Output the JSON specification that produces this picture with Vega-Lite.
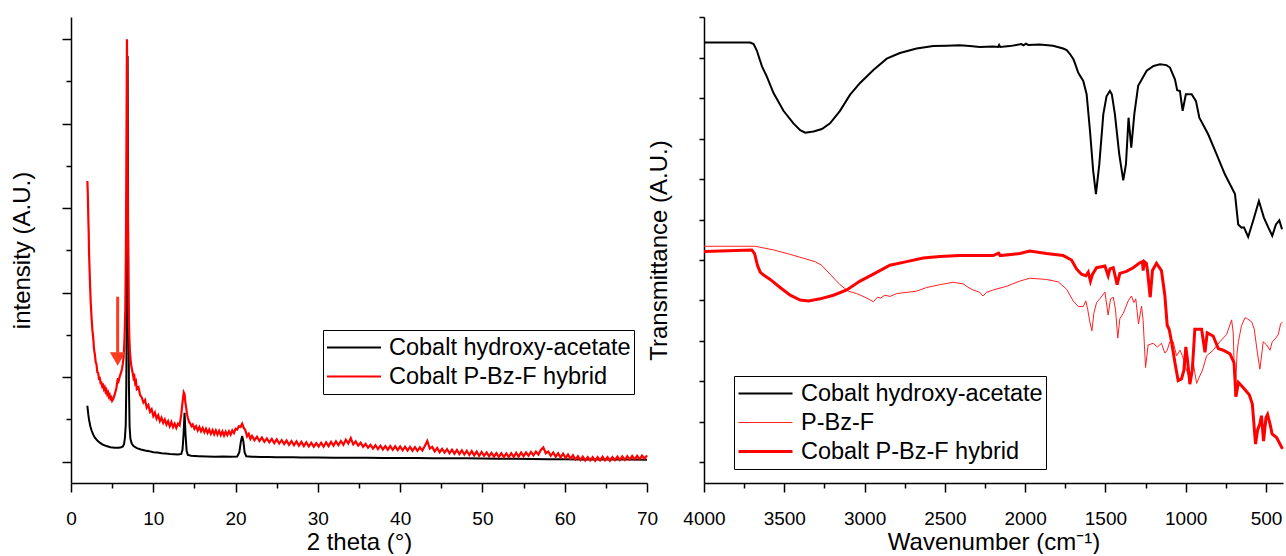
{
  "$schema": "https://vega.github.io/schema/vega-lite/v6.json",
  "background": "white",
  "padding": {"left": 10, "top": 16, "right": 0, "bottom": 0},
  "autosize": {"type": "pad"},
  "config": {
    "view": {"stroke": null},
    "axis": {"grid": false, "domainColor": "black", "tickColor": "black", "labelColor": "black", "titleColor": "black", "labelFont": "Liberation Sans", "titleFont": "Liberation Sans", "labelFontSize": 19, "titleFontSize": 24, "titleFontWeight": "normal", "domainWidth": 1.5, "tickWidth": 1.5, "labelFlush": false},
    "legend": {"labelFont": "Liberation Sans", "labelFontSize": 23.5, "labelColor": "black", "labelLimit": 500, "strokeColor": "black", "strokeWidth": 1, "fillColor": "white", "padding": 3, "symbolType": "stroke", "symbolSize": 2916, "symbolStrokeWidth": 2, "labelOffset": 7, "rowPadding": 0, "clipHeight": 29, "orient": "none"}
  },
  "resolve": {"scale": {"color": "independent", "strokeWidth": "independent", "x": "independent", "y": "independent"}, "legend": {"color": "independent", "strokeWidth": "independent"}},
  "bounds": "flush",
  "spacing": 57,
  "datasets": {
    "xrd": [
      {"s":"Cobalt hydroxy-acetate","x":1.99,"y":662},{"s":"Cobalt hydroxy-acetate","x":2.1,"y":560},{"s":"Cobalt hydroxy-acetate","x":2.2,"y":494},{"s":"Cobalt hydroxy-acetate","x":2.35,"y":420},{"s":"Cobalt hydroxy-acetate","x":2.5,"y":369},{"s":"Cobalt hydroxy-acetate","x":2.7,"y":320},{"s":"Cobalt hydroxy-acetate","x":2.9,"y":285},{"s":"Cobalt hydroxy-acetate","x":3.2,"y":250},{"s":"Cobalt hydroxy-acetate","x":3.5,"y":225},{"s":"Cobalt hydroxy-acetate","x":3.9,"y":200},{"s":"Cobalt hydroxy-acetate","x":4.3,"y":185},{"s":"Cobalt hydroxy-acetate","x":4.8,"y":172},{"s":"Cobalt hydroxy-acetate","x":5.3,"y":165},{"s":"Cobalt hydroxy-acetate","x":5.8,"y":165},{"s":"Cobalt hydroxy-acetate","x":6.1,"y":170},{"s":"Cobalt hydroxy-acetate","x":6.3,"y":180},{"s":"Cobalt hydroxy-acetate","x":6.45,"y":210},{"s":"Cobalt hydroxy-acetate","x":6.55,"y":280},{"s":"Cobalt hydroxy-acetate","x":6.65,"y":430},{"s":"Cobalt hydroxy-acetate","x":6.72,"y":900},{"s":"Cobalt hydroxy-acetate","x":6.8,"y":2200},{"s":"Cobalt hydroxy-acetate","x":6.88,"y":4800},{"s":"Cobalt hydroxy-acetate","x":6.96,"y":2200},{"s":"Cobalt hydroxy-acetate","x":7.04,"y":900},{"s":"Cobalt hydroxy-acetate","x":7.12,"y":420},{"s":"Cobalt hydroxy-acetate","x":7.22,"y":270},{"s":"Cobalt hydroxy-acetate","x":7.38,"y":215},{"s":"Cobalt hydroxy-acetate","x":7.6,"y":185},{"s":"Cobalt hydroxy-acetate","x":8.0,"y":160},{"s":"Cobalt hydroxy-acetate","x":8.5,"y":145},{"s":"Cobalt hydroxy-acetate","x":9.0,"y":132},{"s":"Cobalt hydroxy-acetate","x":9.5,"y":125},{"s":"Cobalt hydroxy-acetate","x":10.0,"y":112},{"s":"Cobalt hydroxy-acetate","x":10.5,"y":108},{"s":"Cobalt hydroxy-acetate","x":11.0,"y":100},{"s":"Cobalt hydroxy-acetate","x":11.5,"y":96},{"s":"Cobalt hydroxy-acetate","x":12.0,"y":90},{"s":"Cobalt hydroxy-acetate","x":12.5,"y":88},{"s":"Cobalt hydroxy-acetate","x":13.0,"y":85},{"s":"Cobalt hydroxy-acetate","x":13.4,"y":92},{"s":"Cobalt hydroxy-acetate","x":13.55,"y":140},{"s":"Cobalt hydroxy-acetate","x":13.68,"y":320},{"s":"Cobalt hydroxy-acetate","x":13.8,"y":578},{"s":"Cobalt hydroxy-acetate","x":13.92,"y":320},{"s":"Cobalt hydroxy-acetate","x":14.05,"y":130},{"s":"Cobalt hydroxy-acetate","x":14.2,"y":80},{"s":"Cobalt hydroxy-acetate","x":14.6,"y":70},{"s":"Cobalt hydroxy-acetate","x":15.5,"y":66},{"s":"Cobalt hydroxy-acetate","x":16.5,"y":63},{"s":"Cobalt hydroxy-acetate","x":17.5,"y":60},{"s":"Cobalt hydroxy-acetate","x":18.5,"y":61},{"s":"Cobalt hydroxy-acetate","x":19.5,"y":59},{"s":"Cobalt hydroxy-acetate","x":20.2,"y":62},{"s":"Cobalt hydroxy-acetate","x":20.45,"y":110},{"s":"Cobalt hydroxy-acetate","x":20.65,"y":240},{"s":"Cobalt hydroxy-acetate","x":20.8,"y":306},{"s":"Cobalt hydroxy-acetate","x":20.95,"y":240},{"s":"Cobalt hydroxy-acetate","x":21.1,"y":110},{"s":"Cobalt hydroxy-acetate","x":21.3,"y":65},{"s":"Cobalt hydroxy-acetate","x":22,"y":58},{"s":"Cobalt hydroxy-acetate","x":23,"y":57},{"s":"Cobalt hydroxy-acetate","x":24,"y":55},{"s":"Cobalt hydroxy-acetate","x":25,"y":54},{"s":"Cobalt hydroxy-acetate","x":26,"y":53},{"s":"Cobalt hydroxy-acetate","x":27,"y":52},{"s":"Cobalt hydroxy-acetate","x":28,"y":51},{"s":"Cobalt hydroxy-acetate","x":29,"y":50},{"s":"Cobalt hydroxy-acetate","x":30,"y":50},{"s":"Cobalt hydroxy-acetate","x":32,"y":48},{"s":"Cobalt hydroxy-acetate","x":34,"y":47},{"s":"Cobalt hydroxy-acetate","x":36,"y":46},{"s":"Cobalt hydroxy-acetate","x":38,"y":45},{"s":"Cobalt hydroxy-acetate","x":40,"y":44},{"s":"Cobalt hydroxy-acetate","x":42,"y":43},{"s":"Cobalt hydroxy-acetate","x":44,"y":42},{"s":"Cobalt hydroxy-acetate","x":46,"y":41},{"s":"Cobalt hydroxy-acetate","x":48,"y":40},{"s":"Cobalt hydroxy-acetate","x":50,"y":38},{"s":"Cobalt hydroxy-acetate","x":52,"y":36},{"s":"Cobalt hydroxy-acetate","x":54,"y":34},{"s":"Cobalt hydroxy-acetate","x":56,"y":32},{"s":"Cobalt hydroxy-acetate","x":58,"y":30},{"s":"Cobalt hydroxy-acetate","x":60,"y":28},{"s":"Cobalt hydroxy-acetate","x":62,"y":27},{"s":"Cobalt hydroxy-acetate","x":64,"y":26},{"s":"Cobalt hydroxy-acetate","x":66,"y":25},{"s":"Cobalt hydroxy-acetate","x":68,"y":25},{"s":"Cobalt hydroxy-acetate","x":70,"y":24},
      {"s":"Cobalt P-Bz-F hybrid","x":1.99,"y":3323},{"s":"Cobalt P-Bz-F hybrid","x":2.05,"y":3150},{"s":"Cobalt P-Bz-F hybrid","x":2.1,"y":2900},{"s":"Cobalt P-Bz-F hybrid","x":2.15,"y":2715},{"s":"Cobalt P-Bz-F hybrid","x":2.2,"y":2450},{"s":"Cobalt P-Bz-F hybrid","x":2.25,"y":2300},{"s":"Cobalt P-Bz-F hybrid","x":2.32,"y":2080},{"s":"Cobalt P-Bz-F hybrid","x":2.4,"y":1880},{"s":"Cobalt P-Bz-F hybrid","x":2.5,"y":1700},{"s":"Cobalt P-Bz-F hybrid","x":2.6,"y":1560},{"s":"Cobalt P-Bz-F hybrid","x":2.7,"y":1470},{"s":"Cobalt P-Bz-F hybrid","x":2.8,"y":1330},{"s":"Cobalt P-Bz-F hybrid","x":2.9,"y":1270},{"s":"Cobalt P-Bz-F hybrid","x":3.0,"y":1180},{"s":"Cobalt P-Bz-F hybrid","x":3.1,"y":1150},{"s":"Cobalt P-Bz-F hybrid","x":3.2,"y":1060},{"s":"Cobalt P-Bz-F hybrid","x":3.3,"y":1050},{"s":"Cobalt P-Bz-F hybrid","x":3.4,"y":985},{"s":"Cobalt P-Bz-F hybrid","x":3.5,"y":990},{"s":"Cobalt P-Bz-F hybrid","x":3.6,"y":930},{"s":"Cobalt P-Bz-F hybrid","x":3.7,"y":935},{"s":"Cobalt P-Bz-F hybrid","x":3.8,"y":890},{"s":"Cobalt P-Bz-F hybrid","x":3.9,"y":905},{"s":"Cobalt P-Bz-F hybrid","x":4.0,"y":860},{"s":"Cobalt P-Bz-F hybrid","x":4.1,"y":880},{"s":"Cobalt P-Bz-F hybrid","x":4.2,"y":830},{"s":"Cobalt P-Bz-F hybrid","x":4.3,"y":850},{"s":"Cobalt P-Bz-F hybrid","x":4.4,"y":800},{"s":"Cobalt P-Bz-F hybrid","x":4.5,"y":820},{"s":"Cobalt P-Bz-F hybrid","x":4.6,"y":770},{"s":"Cobalt P-Bz-F hybrid","x":4.7,"y":790},{"s":"Cobalt P-Bz-F hybrid","x":4.8,"y":745},{"s":"Cobalt P-Bz-F hybrid","x":4.9,"y":760},{"s":"Cobalt P-Bz-F hybrid","x":5.0,"y":720},{"s":"Cobalt P-Bz-F hybrid","x":5.1,"y":735},{"s":"Cobalt P-Bz-F hybrid","x":5.2,"y":760},{"s":"Cobalt P-Bz-F hybrid","x":5.3,"y":790},{"s":"Cobalt P-Bz-F hybrid","x":5.4,"y":830},{"s":"Cobalt P-Bz-F hybrid","x":5.5,"y":860},{"s":"Cobalt P-Bz-F hybrid","x":5.6,"y":930},{"s":"Cobalt P-Bz-F hybrid","x":5.7,"y":990},{"s":"Cobalt P-Bz-F hybrid","x":5.8,"y":960},{"s":"Cobalt P-Bz-F hybrid","x":5.9,"y":1000},{"s":"Cobalt P-Bz-F hybrid","x":6.0,"y":1030},{"s":"Cobalt P-Bz-F hybrid","x":6.1,"y":1060},{"s":"Cobalt P-Bz-F hybrid","x":6.2,"y":1100},{"s":"Cobalt P-Bz-F hybrid","x":6.3,"y":1160},{"s":"Cobalt P-Bz-F hybrid","x":6.4,"y":1250},{"s":"Cobalt P-Bz-F hybrid","x":6.5,"y":1450},{"s":"Cobalt P-Bz-F hybrid","x":6.6,"y":1800},{"s":"Cobalt P-Bz-F hybrid","x":6.68,"y":2600},{"s":"Cobalt P-Bz-F hybrid","x":6.74,"y":3800},{"s":"Cobalt P-Bz-F hybrid","x":6.8,"y":5000},{"s":"Cobalt P-Bz-F hybrid","x":6.86,"y":4000},{"s":"Cobalt P-Bz-F hybrid","x":6.92,"y":2800},{"s":"Cobalt P-Bz-F hybrid","x":7.0,"y":1900},{"s":"Cobalt P-Bz-F hybrid","x":7.08,"y":1500},{"s":"Cobalt P-Bz-F hybrid","x":7.15,"y":1320},{"s":"Cobalt P-Bz-F hybrid","x":7.25,"y":1200},{"s":"Cobalt P-Bz-F hybrid","x":7.35,"y":1120},{"s":"Cobalt P-Bz-F hybrid","x":7.5,"y":1050},{"s":"Cobalt P-Bz-F hybrid","x":7.6,"y":990},{"s":"Cobalt P-Bz-F hybrid","x":7.7,"y":1010},{"s":"Cobalt P-Bz-F hybrid","x":7.8,"y":930},{"s":"Cobalt P-Bz-F hybrid","x":7.9,"y":950},{"s":"Cobalt P-Bz-F hybrid","x":8.0,"y":860},{"s":"Cobalt P-Bz-F hybrid","x":8.2,"y":880},{"s":"Cobalt P-Bz-F hybrid","x":8.4,"y":790},{"s":"Cobalt P-Bz-F hybrid","x":8.6,"y":760},{"s":"Cobalt P-Bz-F hybrid","x":8.8,"y":700},{"s":"Cobalt P-Bz-F hybrid","x":9.0,"y":730},{"s":"Cobalt P-Bz-F hybrid","x":9.2,"y":640},{"s":"Cobalt P-Bz-F hybrid","x":9.4,"y":670},{"s":"Cobalt P-Bz-F hybrid","x":9.6,"y":590},{"s":"Cobalt P-Bz-F hybrid","x":9.8,"y":620},{"s":"Cobalt P-Bz-F hybrid","x":10.0,"y":540},{"s":"Cobalt P-Bz-F hybrid","x":10.2,"y":580},{"s":"Cobalt P-Bz-F hybrid","x":10.4,"y":510},{"s":"Cobalt P-Bz-F hybrid","x":10.6,"y":550},{"s":"Cobalt P-Bz-F hybrid","x":10.8,"y":480},{"s":"Cobalt P-Bz-F hybrid","x":11.0,"y":520},{"s":"Cobalt P-Bz-F hybrid","x":11.2,"y":460},{"s":"Cobalt P-Bz-F hybrid","x":11.4,"y":500},{"s":"Cobalt P-Bz-F hybrid","x":11.6,"y":440},{"s":"Cobalt P-Bz-F hybrid","x":11.8,"y":480},{"s":"Cobalt P-Bz-F hybrid","x":12.0,"y":420},{"s":"Cobalt P-Bz-F hybrid","x":12.2,"y":470},{"s":"Cobalt P-Bz-F hybrid","x":12.4,"y":410},{"s":"Cobalt P-Bz-F hybrid","x":12.6,"y":450},{"s":"Cobalt P-Bz-F hybrid","x":12.8,"y":400},{"s":"Cobalt P-Bz-F hybrid","x":13.0,"y":450},{"s":"Cobalt P-Bz-F hybrid","x":13.2,"y":430},{"s":"Cobalt P-Bz-F hybrid","x":13.4,"y":560},{"s":"Cobalt P-Bz-F hybrid","x":13.55,"y":700},{"s":"Cobalt P-Bz-F hybrid","x":13.7,"y":820},{"s":"Cobalt P-Bz-F hybrid","x":13.8,"y":800},{"s":"Cobalt P-Bz-F hybrid","x":13.9,"y":700},{"s":"Cobalt P-Bz-F hybrid","x":14.0,"y":640},{"s":"Cobalt P-Bz-F hybrid","x":14.1,"y":560},{"s":"Cobalt P-Bz-F hybrid","x":14.2,"y":520},{"s":"Cobalt P-Bz-F hybrid","x":14.35,"y":470},{"s":"Cobalt P-Bz-F hybrid","x":14.5,"y":450},{"s":"Cobalt P-Bz-F hybrid","x":14.65,"y":420},{"s":"Cobalt P-Bz-F hybrid","x":14.8,"y":440},{"s":"Cobalt P-Bz-F hybrid","x":15.0,"y":390},{"s":"Cobalt P-Bz-F hybrid","x":15.2,"y":420},{"s":"Cobalt P-Bz-F hybrid","x":15.4,"y":370},{"s":"Cobalt P-Bz-F hybrid","x":15.6,"y":410},{"s":"Cobalt P-Bz-F hybrid","x":15.8,"y":360},{"s":"Cobalt P-Bz-F hybrid","x":16.0,"y":400},{"s":"Cobalt P-Bz-F hybrid","x":16.2,"y":350},{"s":"Cobalt P-Bz-F hybrid","x":16.4,"y":390},{"s":"Cobalt P-Bz-F hybrid","x":16.6,"y":340},{"s":"Cobalt P-Bz-F hybrid","x":16.8,"y":380},{"s":"Cobalt P-Bz-F hybrid","x":17.0,"y":330},{"s":"Cobalt P-Bz-F hybrid","x":17.2,"y":375},{"s":"Cobalt P-Bz-F hybrid","x":17.4,"y":325},{"s":"Cobalt P-Bz-F hybrid","x":17.6,"y":370},{"s":"Cobalt P-Bz-F hybrid","x":17.8,"y":320},{"s":"Cobalt P-Bz-F hybrid","x":18.0,"y":365},{"s":"Cobalt P-Bz-F hybrid","x":18.2,"y":315},{"s":"Cobalt P-Bz-F hybrid","x":18.4,"y":360},{"s":"Cobalt P-Bz-F hybrid","x":18.6,"y":310},{"s":"Cobalt P-Bz-F hybrid","x":18.8,"y":355},{"s":"Cobalt P-Bz-F hybrid","x":19.0,"y":315},{"s":"Cobalt P-Bz-F hybrid","x":19.2,"y":360},{"s":"Cobalt P-Bz-F hybrid","x":19.4,"y":320},{"s":"Cobalt P-Bz-F hybrid","x":19.6,"y":370},{"s":"Cobalt P-Bz-F hybrid","x":19.8,"y":340},{"s":"Cobalt P-Bz-F hybrid","x":20.0,"y":390},{"s":"Cobalt P-Bz-F hybrid","x":20.2,"y":380},{"s":"Cobalt P-Bz-F hybrid","x":20.4,"y":420},{"s":"Cobalt P-Bz-F hybrid","x":20.6,"y":410},{"s":"Cobalt P-Bz-F hybrid","x":20.8,"y":450},{"s":"Cobalt P-Bz-F hybrid","x":21.0,"y":400},{"s":"Cobalt P-Bz-F hybrid","x":21.2,"y":370},{"s":"Cobalt P-Bz-F hybrid","x":21.4,"y":300},{"s":"Cobalt P-Bz-F hybrid","x":21.6,"y":330},{"s":"Cobalt P-Bz-F hybrid","x":21.8,"y":270},{"s":"Cobalt P-Bz-F hybrid","x":22.0,"y":305},{"s":"Cobalt P-Bz-F hybrid","x":22.3,"y":255},{"s":"Cobalt P-Bz-F hybrid","x":22.6,"y":295},{"s":"Cobalt P-Bz-F hybrid","x":22.9,"y":245},{"s":"Cobalt P-Bz-F hybrid","x":23.2,"y":285},{"s":"Cobalt P-Bz-F hybrid","x":23.5,"y":235},{"s":"Cobalt P-Bz-F hybrid","x":23.8,"y":275},{"s":"Cobalt P-Bz-F hybrid","x":24.1,"y":230},{"s":"Cobalt P-Bz-F hybrid","x":24.4,"y":270},{"s":"Cobalt P-Bz-F hybrid","x":24.7,"y":220},{"s":"Cobalt P-Bz-F hybrid","x":25.0,"y":265},{"s":"Cobalt P-Bz-F hybrid","x":25.3,"y":215},{"s":"Cobalt P-Bz-F hybrid","x":25.6,"y":255},{"s":"Cobalt P-Bz-F hybrid","x":25.9,"y":210},{"s":"Cobalt P-Bz-F hybrid","x":26.2,"y":250},{"s":"Cobalt P-Bz-F hybrid","x":26.5,"y":200},{"s":"Cobalt P-Bz-F hybrid","x":26.8,"y":245},{"s":"Cobalt P-Bz-F hybrid","x":27.1,"y":195},{"s":"Cobalt P-Bz-F hybrid","x":27.4,"y":240},{"s":"Cobalt P-Bz-F hybrid","x":27.7,"y":190},{"s":"Cobalt P-Bz-F hybrid","x":28.0,"y":235},{"s":"Cobalt P-Bz-F hybrid","x":28.3,"y":185},{"s":"Cobalt P-Bz-F hybrid","x":28.6,"y":230},{"s":"Cobalt P-Bz-F hybrid","x":28.9,"y":180},{"s":"Cobalt P-Bz-F hybrid","x":29.2,"y":225},{"s":"Cobalt P-Bz-F hybrid","x":29.5,"y":178},{"s":"Cobalt P-Bz-F hybrid","x":29.8,"y":220},{"s":"Cobalt P-Bz-F hybrid","x":30.1,"y":180},{"s":"Cobalt P-Bz-F hybrid","x":30.4,"y":225},{"s":"Cobalt P-Bz-F hybrid","x":30.7,"y":178},{"s":"Cobalt P-Bz-F hybrid","x":31.0,"y":230},{"s":"Cobalt P-Bz-F hybrid","x":31.3,"y":185},{"s":"Cobalt P-Bz-F hybrid","x":31.6,"y":235},{"s":"Cobalt P-Bz-F hybrid","x":31.9,"y":190},{"s":"Cobalt P-Bz-F hybrid","x":32.2,"y":240},{"s":"Cobalt P-Bz-F hybrid","x":32.5,"y":195},{"s":"Cobalt P-Bz-F hybrid","x":32.8,"y":245},{"s":"Cobalt P-Bz-F hybrid","x":33.1,"y":200},{"s":"Cobalt P-Bz-F hybrid","x":33.4,"y":260},{"s":"Cobalt P-Bz-F hybrid","x":33.7,"y":215},{"s":"Cobalt P-Bz-F hybrid","x":34.0,"y":280},{"s":"Cobalt P-Bz-F hybrid","x":34.3,"y":205},{"s":"Cobalt P-Bz-F hybrid","x":34.6,"y":240},{"s":"Cobalt P-Bz-F hybrid","x":34.9,"y":190},{"s":"Cobalt P-Bz-F hybrid","x":35.2,"y":225},{"s":"Cobalt P-Bz-F hybrid","x":35.5,"y":175},{"s":"Cobalt P-Bz-F hybrid","x":35.8,"y":210},{"s":"Cobalt P-Bz-F hybrid","x":36.1,"y":165},{"s":"Cobalt P-Bz-F hybrid","x":36.4,"y":200},{"s":"Cobalt P-Bz-F hybrid","x":36.7,"y":155},{"s":"Cobalt P-Bz-F hybrid","x":37.0,"y":195},{"s":"Cobalt P-Bz-F hybrid","x":37.3,"y":150},{"s":"Cobalt P-Bz-F hybrid","x":37.6,"y":190},{"s":"Cobalt P-Bz-F hybrid","x":37.9,"y":145},{"s":"Cobalt P-Bz-F hybrid","x":38.2,"y":185},{"s":"Cobalt P-Bz-F hybrid","x":38.5,"y":142},{"s":"Cobalt P-Bz-F hybrid","x":38.8,"y":185},{"s":"Cobalt P-Bz-F hybrid","x":39.1,"y":140},{"s":"Cobalt P-Bz-F hybrid","x":39.4,"y":182},{"s":"Cobalt P-Bz-F hybrid","x":39.7,"y":138},{"s":"Cobalt P-Bz-F hybrid","x":40.0,"y":180},{"s":"Cobalt P-Bz-F hybrid","x":40.3,"y":135},{"s":"Cobalt P-Bz-F hybrid","x":40.6,"y":178},{"s":"Cobalt P-Bz-F hybrid","x":40.9,"y":132},{"s":"Cobalt P-Bz-F hybrid","x":41.2,"y":175},{"s":"Cobalt P-Bz-F hybrid","x":41.5,"y":130},{"s":"Cobalt P-Bz-F hybrid","x":41.8,"y":172},{"s":"Cobalt P-Bz-F hybrid","x":42.1,"y":128},{"s":"Cobalt P-Bz-F hybrid","x":42.4,"y":170},{"s":"Cobalt P-Bz-F hybrid","x":42.7,"y":132},{"s":"Cobalt P-Bz-F hybrid","x":43.0,"y":185},{"s":"Cobalt P-Bz-F hybrid","x":43.3,"y":245},{"s":"Cobalt P-Bz-F hybrid","x":43.6,"y":155},{"s":"Cobalt P-Bz-F hybrid","x":43.9,"y":175},{"s":"Cobalt P-Bz-F hybrid","x":44.2,"y":122},{"s":"Cobalt P-Bz-F hybrid","x":44.5,"y":162},{"s":"Cobalt P-Bz-F hybrid","x":44.8,"y":112},{"s":"Cobalt P-Bz-F hybrid","x":45.1,"y":152},{"s":"Cobalt P-Bz-F hybrid","x":45.4,"y":108},{"s":"Cobalt P-Bz-F hybrid","x":45.7,"y":148},{"s":"Cobalt P-Bz-F hybrid","x":46.0,"y":100},{"s":"Cobalt P-Bz-F hybrid","x":46.3,"y":142},{"s":"Cobalt P-Bz-F hybrid","x":46.6,"y":95},{"s":"Cobalt P-Bz-F hybrid","x":46.9,"y":138},{"s":"Cobalt P-Bz-F hybrid","x":47.2,"y":90},{"s":"Cobalt P-Bz-F hybrid","x":47.5,"y":135},{"s":"Cobalt P-Bz-F hybrid","x":47.8,"y":85},{"s":"Cobalt P-Bz-F hybrid","x":48.1,"y":130},{"s":"Cobalt P-Bz-F hybrid","x":48.4,"y":80},{"s":"Cobalt P-Bz-F hybrid","x":48.7,"y":125},{"s":"Cobalt P-Bz-F hybrid","x":49.0,"y":75},{"s":"Cobalt P-Bz-F hybrid","x":49.3,"y":120},{"s":"Cobalt P-Bz-F hybrid","x":49.6,"y":70},{"s":"Cobalt P-Bz-F hybrid","x":49.9,"y":115},{"s":"Cobalt P-Bz-F hybrid","x":50.2,"y":70},{"s":"Cobalt P-Bz-F hybrid","x":50.5,"y":110},{"s":"Cobalt P-Bz-F hybrid","x":50.8,"y":65},{"s":"Cobalt P-Bz-F hybrid","x":51.1,"y":105},{"s":"Cobalt P-Bz-F hybrid","x":51.4,"y":60},{"s":"Cobalt P-Bz-F hybrid","x":51.7,"y":100},{"s":"Cobalt P-Bz-F hybrid","x":52.0,"y":58},{"s":"Cobalt P-Bz-F hybrid","x":52.3,"y":100},{"s":"Cobalt P-Bz-F hybrid","x":52.6,"y":55},{"s":"Cobalt P-Bz-F hybrid","x":52.9,"y":98},{"s":"Cobalt P-Bz-F hybrid","x":53.2,"y":55},{"s":"Cobalt P-Bz-F hybrid","x":53.5,"y":100},{"s":"Cobalt P-Bz-F hybrid","x":53.8,"y":58},{"s":"Cobalt P-Bz-F hybrid","x":54.1,"y":105},{"s":"Cobalt P-Bz-F hybrid","x":54.4,"y":60},{"s":"Cobalt P-Bz-F hybrid","x":54.7,"y":108},{"s":"Cobalt P-Bz-F hybrid","x":55.0,"y":65},{"s":"Cobalt P-Bz-F hybrid","x":55.3,"y":110},{"s":"Cobalt P-Bz-F hybrid","x":55.6,"y":70},{"s":"Cobalt P-Bz-F hybrid","x":55.9,"y":115},{"s":"Cobalt P-Bz-F hybrid","x":56.2,"y":75},{"s":"Cobalt P-Bz-F hybrid","x":56.5,"y":120},{"s":"Cobalt P-Bz-F hybrid","x":56.8,"y":85},{"s":"Cobalt P-Bz-F hybrid","x":57.1,"y":140},{"s":"Cobalt P-Bz-F hybrid","x":57.4,"y":170},{"s":"Cobalt P-Bz-F hybrid","x":57.7,"y":100},{"s":"Cobalt P-Bz-F hybrid","x":58.0,"y":120},{"s":"Cobalt P-Bz-F hybrid","x":58.3,"y":70},{"s":"Cobalt P-Bz-F hybrid","x":58.6,"y":110},{"s":"Cobalt P-Bz-F hybrid","x":58.9,"y":60},{"s":"Cobalt P-Bz-F hybrid","x":59.2,"y":100},{"s":"Cobalt P-Bz-F hybrid","x":59.5,"y":50},{"s":"Cobalt P-Bz-F hybrid","x":59.8,"y":95},{"s":"Cobalt P-Bz-F hybrid","x":60.1,"y":45},{"s":"Cobalt P-Bz-F hybrid","x":60.4,"y":85},{"s":"Cobalt P-Bz-F hybrid","x":60.7,"y":35},{"s":"Cobalt P-Bz-F hybrid","x":61.0,"y":75},{"s":"Cobalt P-Bz-F hybrid","x":61.3,"y":25},{"s":"Cobalt P-Bz-F hybrid","x":61.6,"y":65},{"s":"Cobalt P-Bz-F hybrid","x":61.9,"y":20},{"s":"Cobalt P-Bz-F hybrid","x":62.2,"y":60},{"s":"Cobalt P-Bz-F hybrid","x":62.5,"y":15},{"s":"Cobalt P-Bz-F hybrid","x":62.8,"y":55},{"s":"Cobalt P-Bz-F hybrid","x":63.1,"y":15},{"s":"Cobalt P-Bz-F hybrid","x":63.4,"y":55},{"s":"Cobalt P-Bz-F hybrid","x":63.7,"y":12},{"s":"Cobalt P-Bz-F hybrid","x":64.0,"y":55},{"s":"Cobalt P-Bz-F hybrid","x":64.3,"y":15},{"s":"Cobalt P-Bz-F hybrid","x":64.6,"y":58},{"s":"Cobalt P-Bz-F hybrid","x":64.9,"y":15},{"s":"Cobalt P-Bz-F hybrid","x":65.2,"y":55},{"s":"Cobalt P-Bz-F hybrid","x":65.5,"y":12},{"s":"Cobalt P-Bz-F hybrid","x":65.8,"y":55},{"s":"Cobalt P-Bz-F hybrid","x":66.1,"y":18},{"s":"Cobalt P-Bz-F hybrid","x":66.4,"y":60},{"s":"Cobalt P-Bz-F hybrid","x":66.7,"y":20},{"s":"Cobalt P-Bz-F hybrid","x":67.0,"y":62},{"s":"Cobalt P-Bz-F hybrid","x":67.3,"y":22},{"s":"Cobalt P-Bz-F hybrid","x":67.6,"y":65},{"s":"Cobalt P-Bz-F hybrid","x":67.9,"y":25},{"s":"Cobalt P-Bz-F hybrid","x":68.2,"y":68},{"s":"Cobalt P-Bz-F hybrid","x":68.5,"y":28},{"s":"Cobalt P-Bz-F hybrid","x":68.8,"y":70},{"s":"Cobalt P-Bz-F hybrid","x":69.1,"y":30},{"s":"Cobalt P-Bz-F hybrid","x":69.4,"y":72},{"s":"Cobalt P-Bz-F hybrid","x":69.7,"y":35},{"s":"Cobalt P-Bz-F hybrid","x":70.0,"y":75}
    ],
    "ir": [
      {"s":"Cobalt hydroxy-acetate","w":4000,"t":9.88},{"s":"Cobalt hydroxy-acetate","w":3850,"t":9.88},{"s":"Cobalt hydroxy-acetate","w":3712,"t":9.88},{"s":"Cobalt hydroxy-acetate","w":3691,"t":9.84},{"s":"Cobalt hydroxy-acetate","w":3671,"t":9.68},{"s":"Cobalt hydroxy-acetate","w":3639,"t":9.29},{"s":"Cobalt hydroxy-acetate","w":3608,"t":9.03},{"s":"Cobalt hydroxy-acetate","w":3567,"t":8.63},{"s":"Cobalt hydroxy-acetate","w":3505,"t":8.19},{"s":"Cobalt hydroxy-acetate","w":3443,"t":7.88},{"s":"Cobalt hydroxy-acetate","w":3401,"t":7.71},{"s":"Cobalt hydroxy-acetate","w":3370,"t":7.65},{"s":"Cobalt hydroxy-acetate","w":3318,"t":7.68},{"s":"Cobalt hydroxy-acetate","w":3266,"t":7.74},{"s":"Cobalt hydroxy-acetate","w":3215,"t":7.88},{"s":"Cobalt hydroxy-acetate","w":3153,"t":8.19},{"s":"Cobalt hydroxy-acetate","w":3090,"t":8.59},{"s":"Cobalt hydroxy-acetate","w":3028,"t":8.88},{"s":"Cobalt hydroxy-acetate","w":2945,"t":9.2},{"s":"Cobalt hydroxy-acetate","w":2862,"t":9.48},{"s":"Cobalt hydroxy-acetate","w":2780,"t":9.62},{"s":"Cobalt hydroxy-acetate","w":2676,"t":9.73},{"s":"Cobalt hydroxy-acetate","w":2572,"t":9.79},{"s":"Cobalt hydroxy-acetate","w":2490,"t":9.8},{"s":"Cobalt hydroxy-acetate","w":2407,"t":9.81},{"s":"Cobalt hydroxy-acetate","w":2344,"t":9.79},{"s":"Cobalt hydroxy-acetate","w":2282,"t":9.77},{"s":"Cobalt hydroxy-acetate","w":2200,"t":9.78},{"s":"Cobalt hydroxy-acetate","w":2168,"t":9.77},{"s":"Cobalt hydroxy-acetate","w":2162,"t":9.82},{"s":"Cobalt hydroxy-acetate","w":2155,"t":9.77},{"s":"Cobalt hydroxy-acetate","w":2096,"t":9.79},{"s":"Cobalt hydroxy-acetate","w":2023,"t":9.84},{"s":"Cobalt hydroxy-acetate","w":2010,"t":9.81},{"s":"Cobalt hydroxy-acetate","w":1995,"t":9.85},{"s":"Cobalt hydroxy-acetate","w":1981,"t":9.82},{"s":"Cobalt hydroxy-acetate","w":1909,"t":9.83},{"s":"Cobalt hydroxy-acetate","w":1826,"t":9.8},{"s":"Cobalt hydroxy-acetate","w":1763,"t":9.73},{"s":"Cobalt hydroxy-acetate","w":1741,"t":9.69},{"s":"Cobalt hydroxy-acetate","w":1722,"t":9.6},{"s":"Cobalt hydroxy-acetate","w":1700,"t":9.47},{"s":"Cobalt hydroxy-acetate","w":1691,"t":9.38},{"s":"Cobalt hydroxy-acetate","w":1669,"t":9.13},{"s":"Cobalt hydroxy-acetate","w":1638,"t":8.93},{"s":"Cobalt hydroxy-acetate","w":1617,"t":8.6},{"s":"Cobalt hydroxy-acetate","w":1596,"t":7.69},{"s":"Cobalt hydroxy-acetate","w":1576,"t":6.7},{"s":"Cobalt hydroxy-acetate","w":1559,"t":6.13},{"s":"Cobalt hydroxy-acetate","w":1538,"t":6.87},{"s":"Cobalt hydroxy-acetate","w":1513,"t":8.11},{"s":"Cobalt hydroxy-acetate","w":1493,"t":8.55},{"s":"Cobalt hydroxy-acetate","w":1472,"t":8.68},{"s":"Cobalt hydroxy-acetate","w":1460,"t":8.6},{"s":"Cobalt hydroxy-acetate","w":1441,"t":8.11},{"s":"Cobalt hydroxy-acetate","w":1414,"t":7.12},{"s":"Cobalt hydroxy-acetate","w":1389,"t":6.47},{"s":"Cobalt hydroxy-acetate","w":1372,"t":6.87},{"s":"Cobalt hydroxy-acetate","w":1356,"t":8.02},{"s":"Cobalt hydroxy-acetate","w":1339,"t":7.28},{"s":"Cobalt hydroxy-acetate","w":1320,"t":8.11},{"s":"Cobalt hydroxy-acetate","w":1296,"t":8.81},{"s":"Cobalt hydroxy-acetate","w":1243,"t":9.18},{"s":"Cobalt hydroxy-acetate","w":1200,"t":9.3},{"s":"Cobalt hydroxy-acetate","w":1160,"t":9.34},{"s":"Cobalt hydroxy-acetate","w":1120,"t":9.32},{"s":"Cobalt hydroxy-acetate","w":1098,"t":9.26},{"s":"Cobalt hydroxy-acetate","w":1067,"t":8.97},{"s":"Cobalt hydroxy-acetate","w":1053,"t":8.7},{"s":"Cobalt hydroxy-acetate","w":1036,"t":8.68},{"s":"Cobalt hydroxy-acetate","w":1019,"t":8.19},{"s":"Cobalt hydroxy-acetate","w":999,"t":8.6},{"s":"Cobalt hydroxy-acetate","w":963,"t":8.6},{"s":"Cobalt hydroxy-acetate","w":936,"t":8.43},{"s":"Cobalt hydroxy-acetate","w":915,"t":8.02},{"s":"Cobalt hydroxy-acetate","w":860,"t":7.61},{"s":"Cobalt hydroxy-acetate","w":808,"t":7.12},{"s":"Cobalt hydroxy-acetate","w":756,"t":6.62},{"s":"Cobalt hydroxy-acetate","w":693,"t":6.13},{"s":"Cobalt hydroxy-acetate","w":673,"t":5.38},{"s":"Cobalt hydroxy-acetate","w":652,"t":5.3},{"s":"Cobalt hydroxy-acetate","w":637,"t":5.31},{"s":"Cobalt hydroxy-acetate","w":611,"t":5.07},{"s":"Cobalt hydroxy-acetate","w":580,"t":5.47},{"s":"Cobalt hydroxy-acetate","w":544,"t":5.96},{"s":"Cobalt hydroxy-acetate","w":513,"t":5.55},{"s":"Cobalt hydroxy-acetate","w":485,"t":5.3},{"s":"Cobalt hydroxy-acetate","w":461,"t":5.1},{"s":"Cobalt hydroxy-acetate","w":438,"t":5.38},{"s":"Cobalt hydroxy-acetate","w":417,"t":5.48},{"s":"Cobalt hydroxy-acetate","w":400,"t":5.26},
      {"s":"P-Bz-F","w":4000,"t":4.84},{"s":"P-Bz-F","w":3681,"t":4.84},{"s":"P-Bz-F","w":3567,"t":4.75},{"s":"P-Bz-F","w":3463,"t":4.64},{"s":"P-Bz-F","w":3360,"t":4.52},{"s":"P-Bz-F","w":3308,"t":4.46},{"s":"P-Bz-F","w":3267,"t":4.37},{"s":"P-Bz-F","w":3215,"t":4.15},{"s":"P-Bz-F","w":3153,"t":3.89},{"s":"P-Bz-F","w":3101,"t":3.73},{"s":"P-Bz-F","w":3049,"t":3.67},{"s":"P-Bz-F","w":2997,"t":3.58},{"s":"P-Bz-F","w":2945,"t":3.47},{"s":"P-Bz-F","w":2920,"t":3.58},{"s":"P-Bz-F","w":2900,"t":3.56},{"s":"P-Bz-F","w":2873,"t":3.63},{"s":"P-Bz-F","w":2842,"t":3.6},{"s":"P-Bz-F","w":2800,"t":3.67},{"s":"P-Bz-F","w":2676,"t":3.73},{"s":"P-Bz-F","w":2614,"t":3.82},{"s":"P-Bz-F","w":2531,"t":3.89},{"s":"P-Bz-F","w":2448,"t":3.95},{"s":"P-Bz-F","w":2386,"t":3.91},{"s":"P-Bz-F","w":2344,"t":3.8},{"s":"P-Bz-F","w":2324,"t":3.76},{"s":"P-Bz-F","w":2282,"t":3.7},{"s":"P-Bz-F","w":2262,"t":3.61},{"s":"P-Bz-F","w":2241,"t":3.7},{"s":"P-Bz-F","w":2199,"t":3.76},{"s":"P-Bz-F","w":2116,"t":3.85},{"s":"P-Bz-F","w":2033,"t":3.98},{"s":"P-Bz-F","w":1971,"t":4.05},{"s":"P-Bz-F","w":1867,"t":4.02},{"s":"P-Bz-F","w":1794,"t":3.96},{"s":"P-Bz-F","w":1742,"t":3.78},{"s":"P-Bz-F","w":1701,"t":3.49},{"s":"P-Bz-F","w":1669,"t":3.35},{"s":"P-Bz-F","w":1638,"t":3.35},{"s":"P-Bz-F","w":1622,"t":3.49},{"s":"P-Bz-F","w":1610,"t":3.27},{"s":"P-Bz-F","w":1597,"t":2.97},{"s":"P-Bz-F","w":1584,"t":2.75},{"s":"P-Bz-F","w":1572,"t":3.18},{"s":"P-Bz-F","w":1555,"t":3.45},{"s":"P-Bz-F","w":1535,"t":3.54},{"s":"P-Bz-F","w":1503,"t":3.71},{"s":"P-Bz-F","w":1483,"t":3.14},{"s":"P-Bz-F","w":1468,"t":3.54},{"s":"P-Bz-F","w":1451,"t":3.58},{"s":"P-Bz-F","w":1437,"t":3.27},{"s":"P-Bz-F","w":1423,"t":2.57},{"s":"P-Bz-F","w":1410,"t":3.05},{"s":"P-Bz-F","w":1389,"t":3.18},{"s":"P-Bz-F","w":1358,"t":3.49},{"s":"P-Bz-F","w":1338,"t":3.61},{"s":"P-Bz-F","w":1323,"t":3.45},{"s":"P-Bz-F","w":1311,"t":3.54},{"s":"P-Bz-F","w":1294,"t":2.92},{"s":"P-Bz-F","w":1275,"t":3.36},{"s":"P-Bz-F","w":1265,"t":3.0},{"s":"P-Bz-F","w":1250,"t":1.84},{"s":"P-Bz-F","w":1234,"t":2.4},{"s":"P-Bz-F","w":1203,"t":2.44},{"s":"P-Bz-F","w":1176,"t":2.35},{"s":"P-Bz-F","w":1151,"t":2.44},{"s":"P-Bz-F","w":1130,"t":2.2},{"s":"P-Bz-F","w":1115,"t":2.27},{"s":"P-Bz-F","w":1099,"t":2.48},{"s":"P-Bz-F","w":1078,"t":2.48},{"s":"P-Bz-F","w":1057,"t":2.13},{"s":"P-Bz-F","w":1036,"t":2.27},{"s":"P-Bz-F","w":1020,"t":2.13},{"s":"P-Bz-F","w":995,"t":1.78},{"s":"P-Bz-F","w":974,"t":1.55},{"s":"P-Bz-F","w":953,"t":1.96},{"s":"P-Bz-F","w":932,"t":1.45},{"s":"P-Bz-F","w":916,"t":1.6},{"s":"P-Bz-F","w":895,"t":1.78},{"s":"P-Bz-F","w":870,"t":2.13},{"s":"P-Bz-F","w":829,"t":2.27},{"s":"P-Bz-F","w":787,"t":2.48},{"s":"P-Bz-F","w":745,"t":2.66},{"s":"P-Bz-F","w":714,"t":3.02},{"s":"P-Bz-F","w":704,"t":2.7},{"s":"P-Bz-F","w":692,"t":1.12},{"s":"P-Bz-F","w":680,"t":2.2},{"s":"P-Bz-F","w":672,"t":2.48},{"s":"P-Bz-F","w":652,"t":2.88},{"s":"P-Bz-F","w":631,"t":3.07},{"s":"P-Bz-F","w":620,"t":3.06},{"s":"P-Bz-F","w":589,"t":2.97},{"s":"P-Bz-F","w":573,"t":2.79},{"s":"P-Bz-F","w":554,"t":2.22},{"s":"P-Bz-F","w":538,"t":1.8},{"s":"P-Bz-F","w":517,"t":2.48},{"s":"P-Bz-F","w":496,"t":2.4},{"s":"P-Bz-F","w":475,"t":2.27},{"s":"P-Bz-F","w":461,"t":2.48},{"s":"P-Bz-F","w":438,"t":2.57},{"s":"P-Bz-F","w":423,"t":2.66},{"s":"P-Bz-F","w":409,"t":2.92},{"s":"P-Bz-F","w":397,"t":2.97},
      {"s":"Cobalt P-Bz-F hybrid","w":4000,"t":4.71},{"s":"Cobalt P-Bz-F hybrid","w":3702,"t":4.75},{"s":"Cobalt P-Bz-F hybrid","w":3685,"t":4.66},{"s":"Cobalt P-Bz-F hybrid","w":3667,"t":4.37},{"s":"Cobalt P-Bz-F hybrid","w":3650,"t":4.2},{"s":"Cobalt P-Bz-F hybrid","w":3633,"t":4.14},{"s":"Cobalt P-Bz-F hybrid","w":3588,"t":4.02},{"s":"Cobalt P-Bz-F hybrid","w":3526,"t":3.82},{"s":"Cobalt P-Bz-F hybrid","w":3463,"t":3.63},{"s":"Cobalt P-Bz-F hybrid","w":3401,"t":3.51},{"s":"Cobalt P-Bz-F hybrid","w":3349,"t":3.49},{"s":"Cobalt P-Bz-F hybrid","w":3277,"t":3.54},{"s":"Cobalt P-Bz-F hybrid","w":3194,"t":3.63},{"s":"Cobalt P-Bz-F hybrid","w":3111,"t":3.76},{"s":"Cobalt P-Bz-F hybrid","w":3028,"t":3.98},{"s":"Cobalt P-Bz-F hybrid","w":2945,"t":4.15},{"s":"Cobalt P-Bz-F hybrid","w":2842,"t":4.37},{"s":"Cobalt P-Bz-F hybrid","w":2738,"t":4.46},{"s":"Cobalt P-Bz-F hybrid","w":2635,"t":4.55},{"s":"Cobalt P-Bz-F hybrid","w":2531,"t":4.59},{"s":"Cobalt P-Bz-F hybrid","w":2407,"t":4.61},{"s":"Cobalt P-Bz-F hybrid","w":2199,"t":4.61},{"s":"Cobalt P-Bz-F hybrid","w":2165,"t":4.67},{"s":"Cobalt P-Bz-F hybrid","w":2155,"t":4.61},{"s":"Cobalt P-Bz-F hybrid","w":2033,"t":4.66},{"s":"Cobalt P-Bz-F hybrid","w":1971,"t":4.72},{"s":"Cobalt P-Bz-F hybrid","w":1867,"t":4.66},{"s":"Cobalt P-Bz-F hybrid","w":1763,"t":4.61},{"s":"Cobalt P-Bz-F hybrid","w":1711,"t":4.5},{"s":"Cobalt P-Bz-F hybrid","w":1680,"t":4.28},{"s":"Cobalt P-Bz-F hybrid","w":1649,"t":4.15},{"s":"Cobalt P-Bz-F hybrid","w":1622,"t":4.11},{"s":"Cobalt P-Bz-F hybrid","w":1607,"t":4.2},{"s":"Cobalt P-Bz-F hybrid","w":1593,"t":3.98},{"s":"Cobalt P-Bz-F hybrid","w":1580,"t":4.15},{"s":"Cobalt P-Bz-F hybrid","w":1555,"t":4.31},{"s":"Cobalt P-Bz-F hybrid","w":1503,"t":4.35},{"s":"Cobalt P-Bz-F hybrid","w":1483,"t":4.11},{"s":"Cobalt P-Bz-F hybrid","w":1472,"t":4.28},{"s":"Cobalt P-Bz-F hybrid","w":1451,"t":4.31},{"s":"Cobalt P-Bz-F hybrid","w":1427,"t":3.89},{"s":"Cobalt P-Bz-F hybrid","w":1410,"t":4.17},{"s":"Cobalt P-Bz-F hybrid","w":1369,"t":4.22},{"s":"Cobalt P-Bz-F hybrid","w":1327,"t":4.31},{"s":"Cobalt P-Bz-F hybrid","w":1286,"t":4.43},{"s":"Cobalt P-Bz-F hybrid","w":1269,"t":4.46},{"s":"Cobalt P-Bz-F hybrid","w":1265,"t":4.24},{"s":"Cobalt P-Bz-F hybrid","w":1258,"t":4.46},{"s":"Cobalt P-Bz-F hybrid","w":1245,"t":4.42},{"s":"Cobalt P-Bz-F hybrid","w":1238,"t":4.24},{"s":"Cobalt P-Bz-F hybrid","w":1221,"t":3.58},{"s":"Cobalt P-Bz-F hybrid","w":1207,"t":4.24},{"s":"Cobalt P-Bz-F hybrid","w":1182,"t":4.42},{"s":"Cobalt P-Bz-F hybrid","w":1151,"t":4.24},{"s":"Cobalt P-Bz-F hybrid","w":1130,"t":3.63},{"s":"Cobalt P-Bz-F hybrid","w":1115,"t":2.88},{"s":"Cobalt P-Bz-F hybrid","w":1103,"t":2.79},{"s":"Cobalt P-Bz-F hybrid","w":1088,"t":2.48},{"s":"Cobalt P-Bz-F hybrid","w":1067,"t":1.96},{"s":"Cobalt P-Bz-F hybrid","w":1047,"t":1.52},{"s":"Cobalt P-Bz-F hybrid","w":1026,"t":1.56},{"s":"Cobalt P-Bz-F hybrid","w":1011,"t":1.78},{"s":"Cobalt P-Bz-F hybrid","w":999,"t":2.35},{"s":"Cobalt P-Bz-F hybrid","w":988,"t":2.0},{"s":"Cobalt P-Bz-F hybrid","w":974,"t":1.43},{"s":"Cobalt P-Bz-F hybrid","w":959,"t":1.78},{"s":"Cobalt P-Bz-F hybrid","w":943,"t":2.79},{"s":"Cobalt P-Bz-F hybrid","w":922,"t":2.79},{"s":"Cobalt P-Bz-F hybrid","w":901,"t":2.79},{"s":"Cobalt P-Bz-F hybrid","w":880,"t":2.22},{"s":"Cobalt P-Bz-F hybrid","w":866,"t":2.7},{"s":"Cobalt P-Bz-F hybrid","w":829,"t":2.62},{"s":"Cobalt P-Bz-F hybrid","w":797,"t":2.31},{"s":"Cobalt P-Bz-F hybrid","w":766,"t":2.27},{"s":"Cobalt P-Bz-F hybrid","w":724,"t":2.18},{"s":"Cobalt P-Bz-F hybrid","w":699,"t":1.96},{"s":"Cobalt P-Bz-F hybrid","w":687,"t":1.12},{"s":"Cobalt P-Bz-F hybrid","w":672,"t":1.47},{"s":"Cobalt P-Bz-F hybrid","w":641,"t":1.34},{"s":"Cobalt P-Bz-F hybrid","w":604,"t":1.17},{"s":"Cobalt P-Bz-F hybrid","w":585,"t":0.94},{"s":"Cobalt P-Bz-F hybrid","w":565,"t":-0.05},{"s":"Cobalt P-Bz-F hybrid","w":552,"t":0.3},{"s":"Cobalt P-Bz-F hybrid","w":538,"t":0.45},{"s":"Cobalt P-Bz-F hybrid","w":528,"t":0.65},{"s":"Cobalt P-Bz-F hybrid","w":515,"t":0.02},{"s":"Cobalt P-Bz-F hybrid","w":500,"t":0.6},{"s":"Cobalt P-Bz-F hybrid","w":490,"t":0.68},{"s":"Cobalt P-Bz-F hybrid","w":475,"t":0.45},{"s":"Cobalt P-Bz-F hybrid","w":462,"t":0.2},{"s":"Cobalt P-Bz-F hybrid","w":434,"t":0.11},{"s":"Cobalt P-Bz-F hybrid","w":397,"t":-0.17}
    ]
  },
  "hconcat": [
    {
      "width": 576,
      "height": 466,
      "data": {"name": "xrd"},
      "layer": [
        {
          "transform": [{"filter": "datum.s === 'Cobalt hydroxy-acetate'"}],
          "mark": {"type": "line", "strokeWidth": 2},
          "encoding": {
            "x": {"field": "x", "type": "quantitative", "scale": {"domain": [0, 70], "nice": false, "zero": false},
              "axis": {"title": "2 theta (°)", "values": [0,5,10,15,20,25,30,35,40,45,50,55,60,65,70], "format": "d", "labelExpr": "datum.value % 10 === 0 ? datum.label : ''", "tickSize": {"condition": {"test": "datum.value % 10 === 0", "value": 9}, "value": 5}, "labelPadding": 17, "titlePadding": 2}},
            "y": {"field": "y", "type": "quantitative", "scale": {"domain": [-252, 5263], "nice": false, "zero": false},
              "axis": {"title": "intensity (A.U.)", "values": [0,500,1000,1500,2000,2500,3000,3500,4000,4500,5000], "labels": false, "tickSize": {"condition": {"test": "datum.value % 1000 === 0", "value": 9}, "value": 5}, "titlePadding": 27}},
            "color": {"field": "s", "type": "nominal", "scale": {"domain": ["Cobalt hydroxy-acetate", "Cobalt P-Bz-F hybrid"], "range": ["#000000", "#ff0000"]},
              "legend": {"title": null, "orient": "none", "legendX": 252, "legendY": 313}}
          }
        },
        {
          "transform": [{"filter": "datum.s === 'Cobalt P-Bz-F hybrid'"}],
          "mark": {"type": "line", "strokeWidth": 2.2},
          "encoding": {
            "x": {"field": "x", "type": "quantitative"},
            "y": {"field": "y", "type": "quantitative"},
            "color": {"field": "s", "type": "nominal"}
          }
        },
        {
          "data": {"values": [{"x": 5.67, "y": 1953, "y2": 1290}]},
          "mark": {"type": "rule", "color": "#ff3b1f", "strokeWidth": 3},
          "encoding": {
            "x": {"field": "x", "type": "quantitative"},
            "y": {"field": "y", "type": "quantitative"},
            "y2": {"field": "y2"}
          }
        },
        {
          "data": {"values": [{"x": 5.67, "y": 1215}]},
          "mark": {"type": "point", "shape": "triangle-down", "filled": true, "size": 240, "color": "#ff3b1f", "opacity": 1},
          "encoding": {
            "x": {"field": "x", "type": "quantitative"},
            "y": {"field": "y", "type": "quantitative"}
          }
        }
      ]
    },
    {
      "width": 579,
      "height": 466,
      "data": {"name": "ir"},
      "layer": [
        {
          "transform": [{"filter": "datum.s === 'Cobalt hydroxy-acetate'"}],
          "mark": {"type": "line"},
          "encoding": {
            "x": {"field": "w", "type": "quantitative", "scale": {"domain": [394, 4000], "reverse": true, "nice": false, "zero": false},
              "axis": {"title": "Wavenumber (cm⁻¹)", "values": [500,750,1000,1250,1500,1750,2000,2250,2500,2750,3000,3250,3500,3750,4000], "format": "d", "labelExpr": "datum.value % 500 === 0 ? datum.label : ''", "tickSize": {"condition": {"test": "datum.value % 500 === 0", "value": 9}, "value": 5}, "labelPadding": 17, "titlePadding": 2}},
            "y": {"field": "t", "type": "quantitative", "scale": {"domain": [-1.014, 10.51], "nice": false, "zero": false},
              "axis": {"title": "Transmittance (A.U.)", "values": [-0.5,0,0.5,1,1.5,2,2.5,3,3.5,4,4.5,5,5.5,6,6.5,7,7.5,8,8.5,9,9.5,10,10.5], "labels": false, "tickSize": {"condition": {"test": "datum.value % 1 === 0", "value": 9}, "value": 5}, "titlePadding": 27}},
            "color": {"field": "s", "type": "nominal", "scale": {"domain": ["Cobalt hydroxy-acetate", "P-Bz-F", "Cobalt P-Bz-F hybrid"], "range": ["#000000", "#ff2020", "#ff0000"]},
              "legend": null},
            "strokeWidth": {"field": "s", "type": "nominal", "scale": {"domain": ["P-Bz-F", "Cobalt hydroxy-acetate", "Cobalt P-Bz-F hybrid"], "range": [1, 3]},
              "legend": {"title": null, "orient": "none", "legendX": 30, "legendY": 359,
                "values": ["Cobalt hydroxy-acetate", "P-Bz-F", "Cobalt P-Bz-F hybrid"],
                "encode": {"symbols": {"update": {"stroke": {"signal": "datum.value === 'Cobalt hydroxy-acetate' ? '#000000' : (datum.value === 'P-Bz-F' ? '#ff2020' : '#ff0000')"}}}}}}
          }
        },
        {
          "transform": [{"filter": "datum.s === 'P-Bz-F'"}],
          "mark": {"type": "line"},
          "encoding": {
            "x": {"field": "w", "type": "quantitative"},
            "y": {"field": "t", "type": "quantitative"},
            "color": {"field": "s", "type": "nominal"},
            "strokeWidth": {"field": "s", "type": "nominal"}
          }
        },
        {
          "transform": [{"filter": "datum.s === 'Cobalt P-Bz-F hybrid'"}],
          "mark": {"type": "line"},
          "encoding": {
            "x": {"field": "w", "type": "quantitative"},
            "y": {"field": "t", "type": "quantitative"},
            "color": {"field": "s", "type": "nominal"},
            "strokeWidth": {"field": "s", "type": "nominal"}
          }
        }
      ]
    }
  ]
}
